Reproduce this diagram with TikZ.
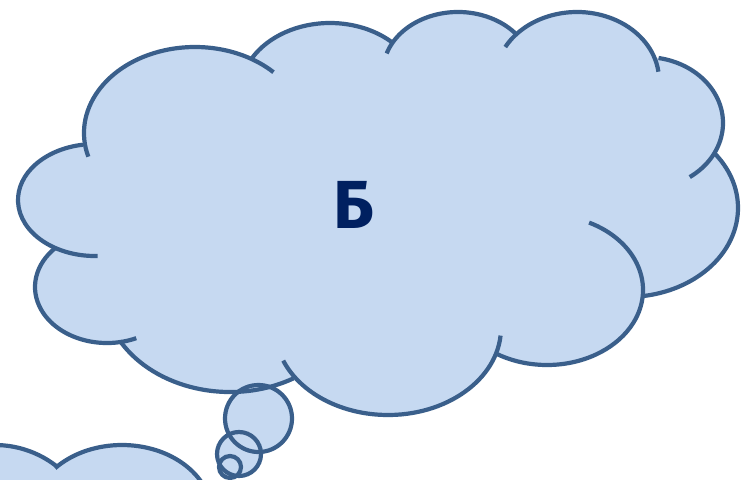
\documentclass[tikz,border=0pt]{standalone}
\usepackage{fontspec}
\newfontfamily\letraFuente{Fira Sans}
\definecolor{azulnube}{HTML}{C6D9F1}
\definecolor{azulborde}{HTML}{3A5F8B}
\definecolor{azulmarino}{HTML}{002060}
\colorlet{colRelleno}{azulnube}
\colorlet{colBorde}{azulborde}
\colorlet{colLetra}{azulmarino}
\tikzset{
  rellenoNube/.style={fill=colRelleno, draw=none},
  bordeNube/.style={draw=colBorde, line width=4.2pt},
  letraNube/.style={font=\letraFuente\bfseries\fontsize{68}{68}\selectfont,
    text=colLetra, inner sep=0pt},
}

\begin{document}
\begin{tikzpicture}[x=1pt, y=-1pt]
    \clip (0,0) rectangle (741,479);
    \fill[rellenoNube] (195,133) -- (330,93) -- (458,72) -- (577,80) -- (645,123) -- (627,207)
      -- (547,290) -- (388,328) -- (230,290) -- (107,287) -- (95,200) -- cycle;
    \foreach \cx/\cy/\rx/\ry/\ta/\tb in {95/200/77/56/88/261, 195/133/111/86/164/315,
        330/93/90/70/210/314, 458/72/75/60/198/320, 577/80/82/68/209/353,
        645/123/78/66/280/415, 627/208/111/89/322/442, 547/290/96/75/-64/121,
        388/328/113/87/5/158, 230/290/127/102/60/150, 107/287/72/56/66/225}
      \fill[rellenoNube] (\cx,\cy) ellipse [x radius=\rx, y radius=\ry];
    \foreach \bx/\by/\br in {258.5/418.5/33.5, 239/454/22, 230/467/11}
      \fill[rellenoNube] (\bx,\by) circle [radius=\br];
    \fill[rellenoNube] (-5,545) circle [radius=100] (122,515) ellipse [x radius=90, y radius=70];

    \foreach \cx/\cy/\rx/\ry/\ta/\tb in {95/200/77/56/88/261, 195/133/111/86/164/315,
        330/93/90/70/210/314, 458/72/75/60/198/320, 577/80/82/68/209/353,
        645/123/78/66/280/415, 627/208/111/89/322/442, 547/290/96/75/-64/121,
        388/328/113/87/5/158, 230/290/127/102/60/150, 107/287/72/56/66/225}
      \draw[bordeNube] (\cx,\cy) ++({\rx*cos(\ta)},{\ry*sin(\ta)})
        arc [start angle=\ta, end angle=\tb, x radius=\rx, y radius=\ry];
    \foreach \bx/\by/\br in {258.5/418.5/33.5, 239/454/22, 230/467/11}
      \draw[bordeNube] (\bx,\by) circle [radius=\br];
    \draw[bordeNube] (-5,545) ++(260:100) arc [start angle=260, end angle=308, radius=100];
    \draw[bordeNube] (122,515) ++({90*cos(222)},{70*sin(222)})
      arc [start angle=222, end angle=360, x radius=90, y radius=70];

    \node[letraNube] (letra) at (354,205) {Б};
\end{tikzpicture}
\end{document}
